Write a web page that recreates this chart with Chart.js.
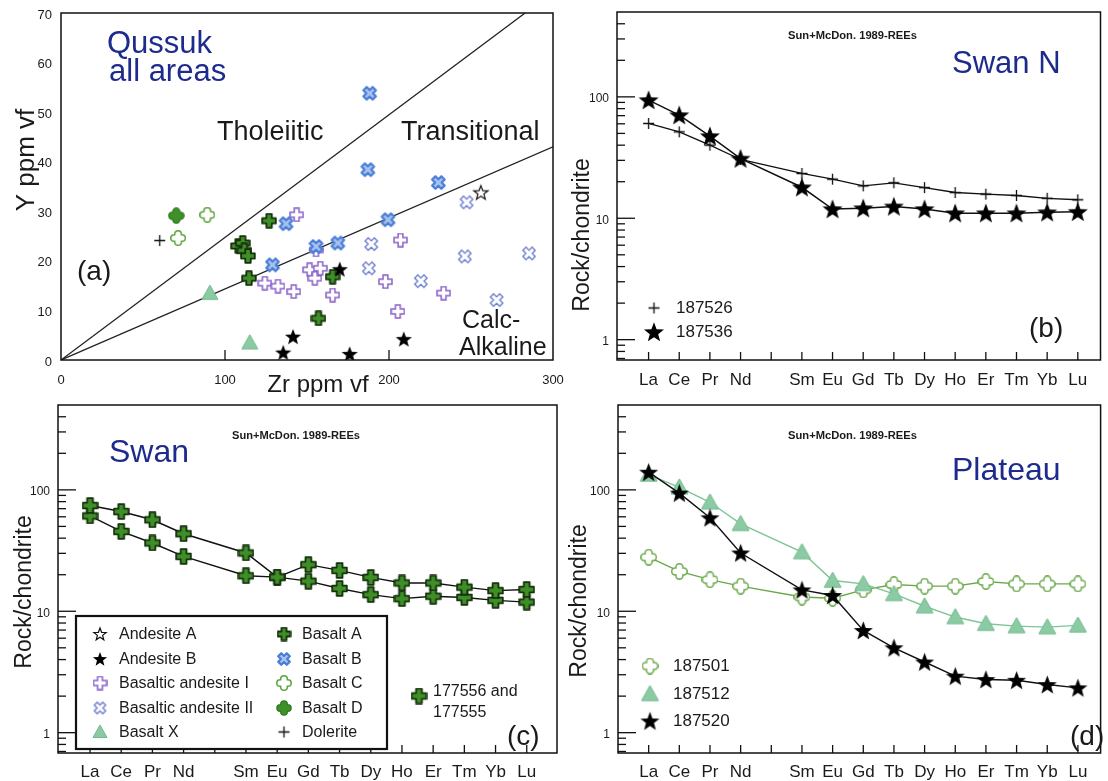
<!DOCTYPE html>
<html><head><meta charset="utf-8">
<script src="https://cdn.jsdelivr.net/npm/chart.js@4.4.0/dist/chart.umd.min.js"></script>
<style>
html,body{margin:0;padding:0;background:#fff;width:1108px;height:781px;overflow:hidden}
canvas{position:absolute;left:0;top:0}
</style></head><body>
<canvas id="ca" width="1108" height="781"></canvas>
<canvas id="cb" width="1108" height="781"></canvas>
<canvas id="cc" width="1108" height="781"></canvas>
<canvas id="cd" width="1108" height="781"></canvas>
<script>
// ---------- DATA ----------
// Panel (a): Zr vs Y (ppm)
const zrTicks = [0, 100, 200, 300];
const yTicks = [0, 10, 20, 30, 40, 50, 60, 70];
const tholeiiticLine = [{x: 0, y: 0}, {x: 283, y: 70}];
const calcAlkalineLine = [{x: 0, y: 0}, {x: 300, y: 43}];

const andesiteA_Zr = [256];
const andesiteA_Y  = [33.8];
const andesiteB_Zr = [170, 141.5, 135.5, 176, 209];
const andesiteB_Y  = [18.3, 4.7, 1.5, 1.2, 4.2];
const basAndI_Zr = [143.7, 207, 124.3, 132.3, 141.9, 151.6, 154.8, 158.1, 155.5, 165.6, 197.8, 205.4, 233.3];
const basAndI_Y  = [29.3, 24.2, 15.5, 14.9, 13.8, 18.2, 16.5, 18.5, 22.2, 13.1, 15.8, 9.8, 13.5];
const basAndII_Zr = [189.2, 187.7, 219.4, 247.3, 246.2, 265.6, 285.4];
const basAndII_Y  = [23.4, 18.5, 15.9, 31.8, 20.9, 12.1, 21.5];
const basaltX_Zr = [90.8, 115.1];
const basaltX_Y  = [13.5, 3.5];
const basaltA_Zr = [126.9, 108.0, 110.8, 111.8, 114.0, 114.6, 165.6, 157.0];
const basaltA_Y  = [28.1, 23.0, 23.6, 22.1, 21.0, 16.5, 16.8, 8.4];
const basaltB_Zr = [188.2, 187.1, 230.1, 199.4, 137.2, 155.5, 168.8, 129.0];
const basaltB_Y  = [53.8, 38.4, 35.8, 28.3, 27.5, 22.9, 23.6, 19.2];
const basaltC_Zr = [89.2, 71.4];
const basaltC_Y  = [29.3, 24.6];
const basaltD_Zr = [70.3];
const basaltD_Y  = [29.1];
const dolerite_Zr = [60.2];
const dolerite_Y  = [24.1];

// REE panels (chondrite-normalised, Sun & McDonough 1989)
const reeLabels = ['La','Ce','Pr','Nd','','Sm','Eu','Gd','Tb','Dy','Ho','Er','Tm','Yb','Lu'];
const reeElements = ['La','Ce','Pr','Nd','Sm','Eu','Gd','Tb','Dy','Ho','Er','Tm','Yb','Lu'];
const logTickLabels = [1, 10, 100];
// (b) Swan N
const s187526 = [60.4, 51.5, 40, 30.5, 23.4, 21, 18.5, 19.6, 17.9, 16.3, 15.8, 15.4, 14.6, 14.2];
const s187536 = [94, 70.7, 47.5, 31, 18, 11.9, 12.1, 12.5, 11.9, 11.0, 11.0, 11.0, 11.2, 11.3];
// (c) Swan
const s177556 = [74.3, 66.3, 56.7, 43.5, 30.2, 19.1, 24.2, 21.7, 19.0, 17.1, 17.1, 15.8, 14.8, 15.1];
const s177555 = [61, 45.5, 36.5, 28.3, 19.6, 19.1, 17.7, 15.4, 13.7, 12.7, 13.3, 13.0, 12.3, 11.9];
// (d) Plateau
const s187501 = [27.9, 21.3, 18.2, 16.1, 13.1, 12.8, 15.0, 16.6, 16.1, 16.1, 17.6, 16.8, 16.8, 16.8];
const s187512 = [133.7, 105, 79, 52.5, 30.7, 17.9, 16.8, 13.9, 11.0, 8.96, 7.9, 7.55, 7.4, 7.65];
const s187520 = [139.8, 94, 58.9, 30.2, 15.0, 13.5, 6.95, 5.0, 3.82, 2.92, 2.74, 2.7, 2.49, 2.34];

// ---------- STYLE ----------
const FONT = '"Liberation Sans", Arial, sans-serif';
const NARROW = '"Liberation Sans Narrow", "Liberation Sans", Arial, sans-serif';
const BLUE_TITLE = '#1c2b8c';
const INK = '#1a1a1a';

function mk(size, draw){
  const c = document.createElement('canvas');
  c.width = size; c.height = size;
  const g = c.getContext('2d');
  g.translate(size/2, size/2);
  draw(g, size/2);
  return c;
}
function starPath(g, R, r){
  g.beginPath();
  for (let i = 0; i < 10; i++){
    const a = -Math.PI/2 + i*Math.PI/5, rr = i % 2 ? r : R;
    g.lineTo(rr*Math.cos(a), rr*Math.sin(a) + R*0.08);
  }
  g.closePath();
}
function plusPath(g, L, w){
  g.beginPath();
  g.moveTo(-w,-L); g.lineTo(w,-L); g.lineTo(w,-w); g.lineTo(L,-w); g.lineTo(L,w); g.lineTo(w,w);
  g.lineTo(w,L); g.lineTo(-w,L); g.lineTo(-w,w); g.lineTo(-L,w); g.lineTo(-L,-w); g.lineTo(-w,-w);
  g.closePath();
}
const M = {
  starFilled: s => mk(s, (g,h) => { starPath(g, h-0.5, (h-0.5)*0.42); g.fillStyle='#000'; g.fill(); }),
  starOpen: s => mk(s, (g,h) => { starPath(g, h-1.5, (h-1.5)*0.42); g.fillStyle='#fff'; g.fill(); g.strokeStyle='#111'; g.lineWidth=1.2; g.stroke(); }),
  plusFilled: s => mk(s, (g,h) => { plusPath(g, h-1.2, (h-1.2)*0.4); g.fillStyle='#3f8f28'; g.fill(); g.strokeStyle='#14300b'; g.lineWidth=1.8; g.lineJoin='round'; g.stroke(); }),
  plusOpenPurple: s => mk(s, (g,h) => { plusPath(g, h-1, (h-1)*0.37); g.fillStyle='#fff'; g.fill(); g.strokeStyle='#8b62c9'; g.lineWidth=1.5; g.stroke(); }),
  xThick: s => mk(s, (g,h) => { g.rotate(Math.PI/4); plusPath(g, h-2, (h-2)*0.36); g.fillStyle='#a9c3ef'; g.fill(); g.strokeStyle='#4a7ed6'; g.lineWidth=2.3; g.lineJoin='round'; g.stroke(); }),
  xThin: s => mk(s, (g,h) => { g.rotate(Math.PI/4); plusPath(g, h-1.5, (h-1.5)*0.34); g.fillStyle='#fff'; g.fill(); g.strokeStyle='#6f7fd0'; g.lineWidth=1.4; g.stroke(); }),
  roundOpen: (s, col) => mk(s, (g,h) => {
    const L = h - (h*0.36) - 1.2, w = h*0.36;
    g.lineCap='round';
    g.beginPath(); g.moveTo(-L,0); g.lineTo(L,0); g.moveTo(0,-L); g.lineTo(0,L);
    g.strokeStyle = col || '#5aa23c'; g.lineWidth = 2*w + 2.4; g.stroke();
    g.strokeStyle = '#fff'; g.lineWidth = 2*w - 0.6; g.stroke();
  }),
  roundFilled: s => mk(s, (g,h) => {
    const L = h - (h*0.4) - 1, w = h*0.4;
    g.lineCap='round';
    g.beginPath(); g.moveTo(-L,0); g.lineTo(L,0); g.moveTo(0,-L); g.lineTo(0,L);
    g.strokeStyle = '#2f7a20'; g.lineWidth = 2*w + 1.6; g.stroke();
    g.strokeStyle = '#3e9029'; g.lineWidth = 2*w - 0.8; g.stroke();
  }),
  triangle: s => mk(s, (g,h) => {
    const R = h - 1;
    g.beginPath(); g.moveTo(0, -R); g.lineTo(R, R*0.78); g.lineTo(-R, R*0.78); g.closePath();
    g.fillStyle='#8bcba3'; g.fill(); g.strokeStyle='#74b98e'; g.lineWidth=1; g.stroke();
  }),
  thinPlus: s => mk(s, (g,h) => {
    g.beginPath(); g.moveTo(-h+1,0); g.lineTo(h-1,0); g.moveTo(0,-h+1); g.lineTo(0,h-1);
    g.strokeStyle='#111'; g.lineWidth=1.3; g.stroke();
  })
};

function pts(xs, ys){ return xs.map((v,i) => ({x: v, y: ys[i]})); }
function reePts(vals){ return vals.map((v,i) => ({x: reeLabels.indexOf(reeElements[i]), y: v})); }

function line(ctx, x1, y1, x2, y2){ ctx.beginPath(); ctx.moveTo(x1,y1); ctx.lineTo(x2,y2); ctx.stroke(); }
function fitText(ctx, txt, x1, x2, yc, font){
  ctx.save(); ctx.font = font; ctx.textBaseline = 'middle'; ctx.textAlign = 'left';
  const w = ctx.measureText(txt).width; const sx = (x2 - x1) / w;
  ctx.translate(x1, yc); ctx.scale(sx, 1); ctx.fillText(txt, 0, 0); ctx.restore();
}
function vText(ctx, txt, cx, cy, font){
  ctx.save(); ctx.font = font; ctx.textAlign='center'; ctx.textBaseline='middle';
  ctx.translate(cx, cy); ctx.rotate(-Math.PI/2); ctx.fillText(txt, 0, 0); ctx.restore();
}

function baseOptions(box, xmin, xmax, ymin, ymax, ytype){
  return {
    responsive: false, animation: false, events: [],
    layout: {padding: {left: box.l, top: box.t, right: 1108 - box.r, bottom: 781 - box.b}},
    plugins: {legend: {display: false}, tooltip: {enabled: false}},
    scales: {
      x: {type: 'linear', display: false, min: xmin, max: xmax},
      y: {type: ytype, display: false, min: ymin, max: ymax}
    }
  };
}

// common REE frame/axes drawing
function drawReeAxes(chart, labelDy){
  const {ctx, chartArea: a, scales: {x, y}} = chart;
  ctx.save();
  ctx.strokeStyle = '#111'; ctx.lineWidth = 1.5;
  ctx.strokeRect(a.left, a.top, a.right - a.left, a.bottom - a.top);
  ctx.lineWidth = 1.3;
  for (let d = 0.1; d <= 1000; d *= 10){
    for (let m = 1; m <= 9; m++){
      const v = m * d;
      if (v <= y.min || v >= y.max) continue;
      const py = y.getPixelForValue(v);
      line(ctx, a.left, py, a.left + (m === 1 ? 18 : 8), py);
    }
  }
  reeLabels.forEach((lab, i) => {
    const px = x.getPixelForValue(i);
    line(ctx, px, a.bottom, px, a.bottom - 8);
  });
  ctx.fillStyle = INK;
  ctx.font = '12px ' + NARROW; ctx.textAlign = 'right'; ctx.textBaseline = 'middle';
  logTickLabels.forEach(v => ctx.fillText(String(v), a.left - 8, y.getPixelForValue(v) + 2));
  ctx.font = '17px ' + FONT; ctx.textAlign = 'center'; ctx.textBaseline = 'middle';
  reeLabels.forEach((lab, i) => { if (lab) ctx.fillText(lab, x.getPixelForValue(i), a.bottom + labelDy); });
  ctx.restore();
}

// ---------- PANEL (a) ----------
const mkA = {
  andA: M.starOpen(18), andB: M.starFilled(18), baI: M.plusOpenPurple(15), baII: M.xThin(16),
  bX: M.triangle(18), bA: M.plusFilled(16), bB: M.xThick(17), bC: M.roundOpen(16), bD: M.roundFilled(17), dol: M.thinPlus(13)
};
function sc(data, style){ return {data, pointStyle: style, pointRadius: 6, showLine: false}; }
new Chart(document.getElementById('ca'), {
  type: 'scatter',
  data: {datasets: [
    sc(pts(andesiteA_Zr, andesiteA_Y), mkA.andA),
    sc(pts(andesiteB_Zr, andesiteB_Y), mkA.andB),
    sc(pts(basaltA_Zr, basaltA_Y), mkA.bA),
    sc(pts(basaltB_Zr, basaltB_Y), mkA.bB),
    sc(pts(basAndII_Zr, basAndII_Y), mkA.baII),
    sc(pts(basAndI_Zr, basAndI_Y), mkA.baI),
    sc(pts(basaltC_Zr, basaltC_Y), mkA.bC),
    sc(pts(basaltD_Zr, basaltD_Y), mkA.bD),
    sc(pts(basaltX_Zr, basaltX_Y), mkA.bX),
    sc(pts(dolerite_Zr, dolerite_Y), mkA.dol),
    {data: tholeiiticLine, showLine: true, pointRadius: 0, borderColor: '#222', borderWidth: 1.3},
    {data: calcAlkalineLine, showLine: true, pointRadius: 0, borderColor: '#222', borderWidth: 1.3}
  ]},
  options: baseOptions({l: 61, t: 13, r: 553, b: 360}, 0, 300, 0, 70, 'linear'),
  plugins: [{id: 'fa', afterDraw(chart){
    const {ctx, chartArea: a, scales: {x, y}} = chart;
    ctx.save();
    ctx.strokeStyle = '#111'; ctx.lineWidth = 1.5;
    ctx.strokeRect(a.left, a.top, a.right - a.left, a.bottom - a.top);
    ctx.lineWidth = 1.3;
    zrTicks.forEach(v => { if (v > 0 && v < 300){ const px = x.getPixelForValue(v); line(ctx, px, a.bottom, px, a.bottom - 10); } });
    ctx.fillStyle = INK;
    ctx.font = '13px ' + NARROW; ctx.textAlign = 'right'; ctx.textBaseline = 'middle';
    yTicks.forEach(v => ctx.fillText(String(v), a.left - 9, y.getPixelForValue(v) + 2));
    ctx.textAlign = 'center';
    zrTicks.forEach(v => ctx.fillText(String(v), x.getPixelForValue(v), a.bottom + 20));
    ctx.textAlign = 'left'; ctx.textBaseline = 'alphabetic';
    ctx.fillStyle = BLUE_TITLE; ctx.font = '31px ' + FONT;
    ctx.fillText('Qussuk', 107, 53); ctx.fillText('all areas', 109, 81);
    ctx.fillStyle = INK; ctx.font = '27px ' + FONT;
    ctx.fillText('Tholeiitic', 217, 140); ctx.fillText('Transitional', 401, 140);
    ctx.font = '25px ' + FONT;
    ctx.fillText('Calc-', 462, 328); ctx.fillText('Alkaline', 459, 355);
    ctx.font = '28px ' + FONT; ctx.fillText('(a)', 77, 280);
    ctx.font = '24px ' + FONT; ctx.textAlign = 'center'; ctx.fillText('Zr ppm vf', 318, 392);
    vText(ctx, 'Y ppm vf', 27, 160, '26px ' + FONT);
    ctx.restore();
  }}]
});

// ---------- PANEL (b) ----------
const starB = M.starFilled(22), plusB = M.thinPlus(13);
new Chart(document.getElementById('cb'), {
  type: 'scatter',
  data: {datasets: [
    {data: reePts(s187536), showLine: true, borderColor: '#111', borderWidth: 1.5, pointStyle: starB, pointRadius: 6},
    {data: reePts(s187526), showLine: true, borderColor: '#111', borderWidth: 1.3, pointStyle: plusB, pointRadius: 6}
  ]},
  options: baseOptions({l: 617, t: 12, r: 1107, b: 360}, -1.03, 14.74, 0.68, 500, 'logarithmic'),
  plugins: [{id: 'fb', afterDraw(chart){
    drawReeAxes(chart, 20);
    const ctx = chart.ctx; ctx.save(); ctx.fillStyle = INK;
    fitText(ctx, 'Sun+McDon. 1989-REEs', 788, 917, 36, 'bold 11px ' + NARROW);
    ctx.fillStyle = BLUE_TITLE; ctx.font = '31px ' + FONT; ctx.textBaseline = 'alphabetic';
    ctx.fillText('Swan N', 952, 73);
    ctx.fillStyle = INK;
    ctx.drawImage(plusB, 654 - 6.5, 308 - 6.5); ctx.drawImage(starB, 654 - 11, 332 - 11);
    ctx.font = '17px ' + FONT; ctx.textBaseline = 'middle';
    ctx.fillText('187526', 676, 308); ctx.fillText('187536', 676, 332);
    ctx.font = '28px ' + FONT; ctx.textBaseline = 'alphabetic'; ctx.fillText('(b)', 1029, 337);
    vText(ctx, 'Rock/chondrite', 583, 235, '23px ' + FONT);
    ctx.restore();
  }}]
});

// ---------- PANEL (c) ----------
const plusC = M.plusFilled(17);
new Chart(document.getElementById('cc'), {
  type: 'scatter',
  data: {datasets: [
    {data: reePts(s177556), showLine: true, borderColor: '#111', borderWidth: 1.4, pointStyle: plusC, pointRadius: 6},
    {data: reePts(s177555), showLine: true, borderColor: '#111', borderWidth: 1.4, pointStyle: plusC, pointRadius: 6}
  ]},
  options: baseOptions({l: 58, t: 405, r: 557, b: 753}, -1.026, 14.97, 0.68, 500, 'logarithmic'),
  plugins: [{id: 'fc', afterDraw(chart){
    drawReeAxes(chart, 19);
    const ctx = chart.ctx; ctx.save(); ctx.fillStyle = INK;
    fitText(ctx, 'Sun+McDon. 1989-REEs', 232, 360, 436, 'bold 11px ' + NARROW);
    ctx.fillStyle = BLUE_TITLE; ctx.font = '32px ' + FONT; ctx.textBaseline = 'alphabetic';
    ctx.fillText('Swan', 109, 462);
    // legend box for panel (a) symbols
    ctx.fillStyle = '#fff'; ctx.fillRect(76, 616, 311, 133);
    ctx.strokeStyle = '#111'; ctx.lineWidth = 2.2; ctx.strokeRect(76, 616, 311, 133);
    const rows = [634, 659, 683, 708, 732];
    const col1 = [['Andesite A', M.starOpen(16)], ['Andesite B', M.starFilled(16)], ['Basaltic andesite I', M.plusOpenPurple(15)], ['Basaltic andesite II', M.xThin(15)], ['Basalt X', M.triangle(16)]];
    const col2 = [['Basalt A', M.plusFilled(15)], ['Basalt B', M.xThick(16)], ['Basalt C', M.roundOpen(16)], ['Basalt D', M.roundFilled(16)], ['Dolerite', M.thinPlus(13)]];
    ctx.font = '16px ' + FONT; ctx.textBaseline = 'middle'; ctx.fillStyle = INK;
    col1.forEach((r, i) => { ctx.drawImage(r[1], 100 - r[1].width/2, rows[i] - r[1].height/2); ctx.fillText(r[0], 119, rows[i] + 1); });
    col2.forEach((r, i) => { ctx.drawImage(r[1], 284 - r[1].width/2, rows[i] - r[1].height/2); ctx.fillText(r[0], 302, rows[i] + 1); });
    ctx.drawImage(plusC, 419 - 8.5, 696 - 8.5);
    ctx.fillText('177556 and', 433, 692); ctx.fillText('177555', 433, 713);
    ctx.font = '28px ' + FONT; ctx.textBaseline = 'alphabetic'; ctx.fillText('(c)', 507, 745);
    vText(ctx, 'Rock/chondrite', 25, 592, '23px ' + FONT);
    ctx.restore();
  }}]
});

// ---------- PANEL (d) ----------
const crossD = M.roundOpen(17, '#6aa84a'), triD = M.triangle(19), starD = M.starFilled(21);
new Chart(document.getElementById('cd'), {
  type: 'scatter',
  data: {datasets: [
    {data: reePts(s187520), showLine: true, borderColor: '#111', borderWidth: 1.4, pointStyle: starD, pointRadius: 6},
    {data: reePts(s187512), showLine: true, borderColor: '#7cc596', borderWidth: 1.4, pointStyle: triD, pointRadius: 6},
    {data: reePts(s187501), showLine: true, borderColor: '#6aa84a', borderWidth: 1.4, pointStyle: crossD, pointRadius: 6}
  ]},
  options: baseOptions({l: 618, t: 405, r: 1107, b: 753}, -1.0, 14.74, 0.68, 500, 'logarithmic'),
  plugins: [{id: 'fd', afterDraw(chart){
    drawReeAxes(chart, 19);
    const ctx = chart.ctx; ctx.save(); ctx.fillStyle = INK;
    fitText(ctx, 'Sun+McDon. 1989-REEs', 788, 917, 436, 'bold 11px ' + NARROW);
    ctx.fillStyle = BLUE_TITLE; ctx.font = '32px ' + FONT; ctx.textBaseline = 'alphabetic';
    ctx.fillText('Plateau', 952, 480);
    ctx.fillStyle = INK;
    ctx.drawImage(crossD, 650 - 8.5, 666 - 8.5); ctx.drawImage(triD, 650 - 9.5, 694 - 9.5); ctx.drawImage(starD, 650 - 10.5, 721 - 10.5);
    ctx.font = '17px ' + FONT; ctx.textBaseline = 'middle';
    ctx.fillText('187501', 673, 666); ctx.fillText('187512', 673, 694); ctx.fillText('187520', 673, 721);
    ctx.font = '28px ' + FONT; ctx.textBaseline = 'alphabetic'; ctx.fillText('(d)', 1070, 745);
    vText(ctx, 'Rock/chondrite', 580, 601, '23px ' + FONT);
    ctx.restore();
  }}]
});
</script>
</body></html>
